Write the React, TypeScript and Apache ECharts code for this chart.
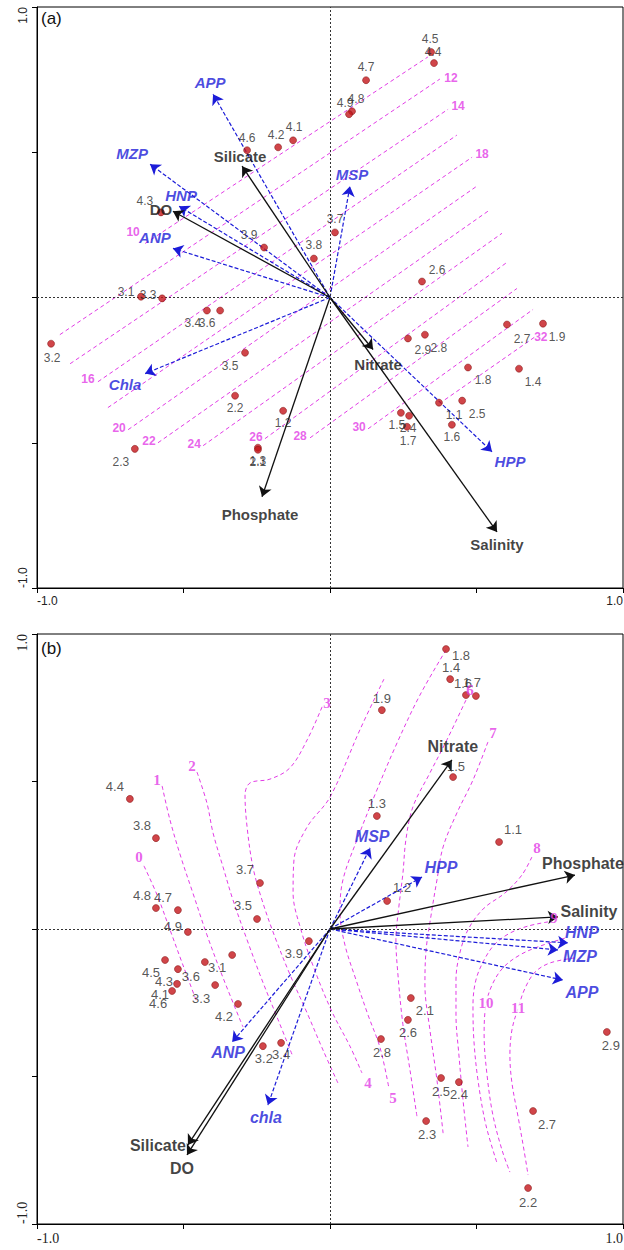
import React, { useEffect, useRef } from 'react';
import * as echarts from 'echarts';

// ---------------- DATA ----------------
const stations = ['1.1','1.2','1.3','1.4','1.5','1.6','1.7','1.8','1.9','2.1','2.2','2.3','2.4','2.5','2.6','2.7','2.8','2.9','3.1','3.2','3.3','3.4','3.5','3.6','3.7','3.8','3.9','4.1','4.2','4.3','4.4','4.5','4.6','4.7','4.8','4.9'];

// panel (a) sample scores
const aAxis1 = [0.372,-0.160,-0.246,0.645,0.242,0.416,0.263,0.471,0.727, -0.246,-0.324,-0.666,0.270,0.451,0.314,0.604,0.324,0.266, -0.645,-0.952,-0.573,-0.420,-0.290,-0.375,0.017,-0.055,-0.225, -0.126,-0.177,-0.577,0.355,0.345,-0.283,0.123,0.075,0.065];
const aAxis2 = [-0.362,-0.390,-0.517,-0.245,-0.397,-0.438,-0.445,-0.241,-0.090, -0.524,-0.338,-0.521,-0.407,-0.355,0.055,-0.093,-0.128,-0.141, 0.003,-0.159,-0.003,-0.045,-0.190,-0.045,0.224,0.134,0.172, 0.541,0.517,0.293,0.807,0.845,0.507,0.748,0.641,0.631];

// panel (b) sample scores
const bAxis1 = [0.577,0.195,0.160,0.410,0.420,0.464,0.498,0.396,0.177, 0.276,0.676,0.328,0.440,0.379,0.266,0.693,0.174,0.945, -0.334,-0.229,-0.392,-0.167,-0.249,-0.427,-0.239,-0.594,-0.072, -0.522,-0.314,-0.519,-0.683,-0.563,-0.539,-0.519,-0.594,-0.485];
const bAxis2 = [0.295,0.095,0.383,0.847,0.515,0.793,0.790,0.949,0.742, -0.234,-0.878,-0.651,-0.519,-0.505,-0.308,-0.617,-0.373,-0.349, -0.088,-0.397,-0.190,-0.386,0.034,-0.112,0.156,0.308,-0.041, -0.186,-0.254,-0.136,0.441,-0.105,-0.210,0.064,0.071,-0.010];

// panel (a) arrows
const aEnvNames = ['Silicate','DO','Nitrate','Salinity','Phosphate'];
const aEnvX = [-0.300,-0.536,0.147,0.570,-0.232];
const aEnvY = [0.452,0.297,-0.179,-0.807,-0.686];
const aBioNames = ['APP','MZP','HNP','ANP','MSP','Chla','HPP'];
const aBioX = [-0.399,-0.614,-0.515,-0.536,0.068,-0.631,0.553];
const aBioY = [0.700,0.459,0.314,0.169,0.383,-0.262,-0.531];

// panel (b) arrows
const bEnvNames = ['Nitrate','Phosphate','Salinity','Silicate','DO'];
const bEnvX = [0.416,0.836,0.778,-0.485,-0.488];
const bEnvY = [0.573,0.183,0.041,-0.732,-0.766];
const bBioNames = ['MSP','HPP','HNP','MZP','APP','ANP','chla'];
const bBioX = [0.137,0.314,0.812,0.778,0.795,-0.334,-0.212];
const bBioY = [0.275,0.176,-0.047,-0.071,-0.173,-0.383,-0.597];

// panel (a) isolines (straight)
const aIsoValues = [10,12,14,16,18,20,22,24,26,28,30,32];
const aIsoX1 = [-0.631,-0.922,-0.887,-0.792,-0.758,-0.689,-0.587,-0.433,-0.222,-0.068,0.130,0.392];
const aIsoY1 = [0.186,-0.128,-0.228,-0.290,-0.379,-0.455,-0.500,-0.510,-0.486,-0.483,-0.452,-0.352];
const aIsoX2 = [0.334,0.375,0.403,0.433,0.485,0.505,0.539,0.587,0.608,0.638,0.693,0.706];
const aIsoY2 = [0.828,0.752,0.648,0.559,0.483,0.386,0.297,0.221,0.124,0.031,-0.041,-0.131];

// panel (b) isolines (curved)
const bIsoValues = [0,1,2,3,4,5,6,7,8,9,10,11];
const bIsoLines = [
  [[-0.635,0.214],[-0.590,0.115],[-0.546,-0.003],[-0.502,-0.122],[-0.457,-0.241]],
  [[-0.573,0.485],[-0.546,0.369],[-0.509,0.244],[-0.468,0.122],[-0.420,-0.020],[-0.362,-0.173],[-0.297,-0.332]],
  [[-0.454,0.532],[-0.420,0.427],[-0.399,0.325],[-0.365,0.210],[-0.331,0.098],[-0.283,-0.037],[-0.232,-0.173],[-0.177,-0.308],[-0.126,-0.434]],
  [[-0.027,0.753],[-0.078,0.641],[-0.137,0.546],[-0.205,0.508],[-0.273,0.495],[-0.290,0.454],[-0.283,0.346],[-0.263,0.210],[-0.232,0.098],[-0.188,-0.027],[-0.133,-0.163],[-0.078,-0.285],[-0.024,-0.410],[0.027,-0.522]],
  [[0.184,0.847],[0.102,0.675],[0.000,0.447],[-0.078,0.346],[-0.123,0.234],[-0.126,0.122],[-0.099,-0.003],[-0.055,-0.132],[0.007,-0.281],[0.068,-0.397],[0.109,-0.488]],
  [[0.396,0.946],[0.307,0.793],[0.229,0.631],[0.160,0.471],[0.092,0.302],[0.044,0.166],[0.034,0.058],[0.051,-0.054],[0.089,-0.173],[0.130,-0.292],[0.171,-0.403],[0.201,-0.539]],
  [[0.464,0.776],[0.399,0.641],[0.341,0.529],[0.283,0.414],[0.259,0.302],[0.249,0.190],[0.235,0.075],[0.225,-0.037],[0.232,-0.156],[0.249,-0.325],[0.273,-0.478],[0.297,-0.637]],
  [[0.539,0.634],[0.488,0.505],[0.433,0.393],[0.386,0.278],[0.365,0.166],[0.345,0.047],[0.328,-0.071],[0.324,-0.190],[0.341,-0.342],[0.365,-0.512],[0.386,-0.692]],
  [[0.689,0.244],[0.655,0.183],[0.597,0.122],[0.526,0.071],[0.474,0.003],[0.444,-0.078],[0.430,-0.173],[0.430,-0.292],[0.440,-0.427],[0.454,-0.580],[0.471,-0.739]],
  [[0.744,0.024],[0.676,0.010],[0.614,-0.014],[0.563,-0.051],[0.526,-0.105],[0.498,-0.173],[0.488,-0.258],[0.491,-0.376],[0.505,-0.512],[0.532,-0.664],[0.570,-0.793]],
  [[0.802,-0.031],[0.717,-0.058],[0.648,-0.088],[0.590,-0.132],[0.553,-0.190],[0.532,-0.258],[0.526,-0.359],[0.536,-0.495],[0.556,-0.631],[0.587,-0.749],[0.614,-0.824]],
  [[0.836,-0.098],[0.751,-0.115],[0.700,-0.146],[0.666,-0.200],[0.642,-0.268],[0.621,-0.342],[0.614,-0.427],[0.621,-0.522],[0.642,-0.637],[0.662,-0.749],[0.676,-0.834]],
];

// ---------------- STYLE (label placement, px) ----------------
const aPtOffset: Record<string, number[]> = {
  '1.1':[15,12],'1.2':[0,12],'1.3':[0,13],'1.4':[14,13],'1.5':[-4,12],'1.6':[0,12],'1.7':[1,14],'1.8':[15,12],'1.9':[14,13],
  '2.1':[0,12],'2.2':[0,12],'2.3':[-14,13],'2.4':[-1,12],'2.5':[15,13],'2.6':[15,-12],'2.7':[15,14],'2.8':[14,13],'2.9':[15,12],
  '3.1':[-15,-5],'3.2':[1,14],'3.3':[-14,-3],'3.4':[-14,12],'3.5':[-15,13],'3.6':[-13,12],'3.7':[0,-13],'3.8':[0,-14],'3.9':[-15,-13],
  '4.1':[1,-13],'4.2':[-2,-12],'4.3':[-16,-11],'4.4':[-1,-11],'4.5':[-1,-13],'4.6':[0,-12],'4.7':[0,-13],'4.8':[4,-12],'4.9':[-4,-11],
};
const bPtOffset: Record<string, number[]> = {
  '1.1':[14,-12],'1.2':[15,-13],'1.3':[0,-13],'1.4':[1,-12],'1.5':[3,-11],'1.6':[-3,-12],'1.7':[-4,-13],'1.8':[15,6],'1.9':[0,-12],
  '2.1':[14,12],'2.2':[0,14],'2.3':[1,13],'2.4':[0,12],'2.5':[0,14],'2.6':[0,13],'2.7':[14,13],'2.8':[1,13],'2.9':[4,14],
  '3.1':[-15,13],'3.2':[1,12],'3.3':[-14,13],'3.4':[0,12],'3.5':[-14,-13],'3.6':[-14,14],'3.7':[-15,-13],'3.8':[-14,-13],'3.9':[-15,12],
  '4.1':[-17,11],'4.2':[-14,13],'4.3':[-14,12],'4.4':[-15,-12],'4.5':[-14,13],'4.6':[-14,13],'4.7':[-15,-13],'4.8':[-14,-13],'4.9':[-15,-5],
};
const aEnvOffset: Record<string, number[]> = { Silicate:[-2,-10], DO:[-12,-2], Nitrate:[5,15], Salinity:[0,13], Phosphate:[-2,18] };
const aBioOffset: Record<string, number[]> = { APP:[-3,-12], MZP:[-18,-11], HNP:[2,-11], ANP:[-18,-11], MSP:[2,-12], Chla:[-20,11], HPP:[18,10] };
const bEnvOffset: Record<string, number[]> = { Nitrate:[1,-13], Phosphate:[8,-12], Salinity:[31,-5], Silicate:[-30,1], DO:[-5,14] };
const bBioOffset: Record<string, number[]> = { MSP:[2,-11], HPP:[19,-10], HNP:[14,-10], MZP:[22,7], APP:[19,12], ANP:[-4,11], chla:[-2,12] };
// isoline label anchor: 0 = start, 1 = end ; offsets px
const aIsoAnchor = [0,1,1,0,1,0,0,0,0,0,0,1];
const aIsoOffset = [[-12,-11],[11,-1],[10,-3],[-10,-3],[10,-3],[-9,-2],[-9,-2],[-9,-2],[-9,-2],[-10,-2],[-9,-2],[4,1]];
// b: vertex index (-1 = last)
const bIsoAnchor = [0,0,0,0,-1,-1,0,0,0,0,5,4];
const bIsoOffset = [[-5,-9],[-5,-6],[-5,-6],[5,-4],[6,10],[4,10],[4,-10],[5,-9],[5,-9],[6,-4],[0,-2],[0,0]];

const SANS = '"Liberation Sans", Arial, Helvetica, sans-serif';
const SERIF = '"Liberation Serif", "Times New Roman", serif';
const MAGENTA = '#e23ce6';
const BLUE = '#1c1cd8';

function axes(gi: number, font: string, size: number) {
  const fmt = (v: number) => (v === -1 ? '-1.0' : v === 1 ? '1.0' : '');
  const common = {
    gridIndex: gi, type: 'value', min: -1, max: 1, interval: 0.5,
    axisLine: { show: true, onZero: false, lineStyle: { color: '#000', width: 1 } },
    axisTick: { show: true, inside: false, length: 5, lineStyle: { color: '#000' } },
    splitLine: { show: false },
  };
  return {
    x: { ...common, axisLabel: { formatter: fmt, alignMinLabel: 'left', alignMaxLabel: 'right', fontFamily: font, fontSize: size, color: '#222', margin: 7 } },
    y: { ...common, axisLabel: { formatter: fmt, rotate: 90, alignMinLabel: 'left', alignMaxLabel: 'right', fontFamily: font, fontSize: size, color: '#222', margin: 8 } },
  };
}

function panel(gi: number, p: any) {
  const series: any[] = [];
  // isolines
  p.isoLines.forEach((pts: number[][], i: number) => {
    series.push({
      type: 'line', xAxisIndex: gi, yAxisIndex: gi, data: pts, smooth: p.smooth, showSymbol: false, symbol: 'none',
      lineStyle: { color: MAGENTA, width: 1, type: [4, 3] }, silent: true, z: 1,
    });
  });
  // isoline labels
  series.push({
    type: 'scatter', xAxisIndex: gi, yAxisIndex: gi, symbolSize: 1, itemStyle: { color: 'transparent' }, silent: true, z: 6,
    data: p.isoLines.map((pts: number[][], i: number) => {
      const a = p.isoAnchor[i];
      const idx = a === -1 ? pts.length - 1 : a;
      return {
        value: pts[idx], name: String(p.isoValues[i]),
        label: { offset: p.isoOffset[i], ...(p.isoBg && a > 0 ? { backgroundColor: '#fff', padding: [0, 1] } : {}) },
      };
    }),
    label: { show: true, position: 'inside', formatter: '{b}', color: MAGENTA, fontFamily: p.isoFont, fontSize: p.isoSize, fontWeight: 'bold', textBorderWidth: 0, align: 'center', verticalAlign: 'middle' },
  });
  // arrows
  series.push({
    type: 'lines', coordinateSystem: 'cartesian2d', xAxisIndex: gi, yAxisIndex: gi, polyline: false, silent: true, z: 3,
    symbol: ['none', 'arrow'], symbolSize: 10,
    lineStyle: { color: BLUE, width: 1.2, type: [4, 2], opacity: 1, curveness: 0 },
    data: p.bioNames.map((n: string, i: number) => ({ coords: [[0, 0], [p.bioX[i], p.bioY[i]]] })),
  });
  series.push({
    type: 'lines', coordinateSystem: 'cartesian2d', xAxisIndex: gi, yAxisIndex: gi, polyline: false, silent: true, z: 3,
    symbol: ['none', 'arrow'], symbolSize: 10,
    lineStyle: { color: '#111', width: 1.3, type: 'solid', opacity: 1, curveness: 0 },
    data: p.envNames.map((n: string, i: number) => ({ coords: [[0, 0], [p.envX[i], p.envY[i]]] })),
  });
  // arrow labels
  series.push({
    type: 'scatter', xAxisIndex: gi, yAxisIndex: gi, symbolSize: 1, itemStyle: { color: 'transparent' }, silent: true, z: 6,
    data: p.envNames.map((n: string, i: number) => ({ value: [p.envX[i], p.envY[i]], name: n, label: { offset: p.envOffset[n] } })),
    label: { show: true, position: 'inside', formatter: '{b}', color: '#111', fontFamily: SANS, fontSize: p.arrowSize, fontWeight: 'bold', textBorderWidth: 0, align: 'center', verticalAlign: 'middle' },
  });
  series.push({
    type: 'scatter', xAxisIndex: gi, yAxisIndex: gi, symbolSize: 1, itemStyle: { color: 'transparent' }, silent: true, z: 6,
    data: p.bioNames.map((n: string, i: number) => ({ value: [p.bioX[i], p.bioY[i]], name: n, label: { offset: p.bioOffset[n] } })),
    label: { show: true, position: 'inside', formatter: '{b}', color: BLUE, fontFamily: SANS, fontSize: p.arrowSize, fontWeight: 'bold', fontStyle: 'italic', textBorderWidth: 0, align: 'center', verticalAlign: 'middle' },
  });
  // sample points
  series.push({
    type: 'scatter', xAxisIndex: gi, yAxisIndex: gi, symbol: 'circle', symbolSize: 7, silent: true, z: 5,
    itemStyle: { color: '#c4161c', borderColor: '#7a0a0a', borderWidth: 0.6 },
    data: stations.map((s, i) => ({ value: [p.ax1[i], p.ax2[i]], name: s, label: { offset: p.ptOffset[s] } })),
    label: { show: true, position: 'inside', formatter: '{b}', color: '#2a2a2a', fontFamily: SANS, fontSize: p.ptSize, textBorderWidth: 0, align: 'center', verticalAlign: 'middle' },
    markLine: {
      silent: true, symbol: ['none', 'none'], label: { show: false },
      lineStyle: { color: '#333', width: 1, type: [2, 2] },
      data: [{ xAxis: 0 }, { yAxis: 0 }],
    },
  });
  return series;
}

export default function App() {
  const ref = useRef<HTMLDivElement>(null);
  useEffect(() => {
    if (!ref.current) return;
    const chart = echarts.init(ref.current, undefined, { renderer: 'svg' });
    const axA = axes(0, SANS, 12);
    const axB = axes(1, SERIF, 14);
    const sA = panel(0, {
      ax1: aAxis1, ax2: aAxis2, ptOffset: aPtOffset, ptSize: 12,
      envNames: aEnvNames, envX: aEnvX, envY: aEnvY, envOffset: aEnvOffset,
      bioNames: aBioNames, bioX: aBioX, bioY: aBioY, bioOffset: aBioOffset, arrowSize: 15,
      isoLines: aIsoValues.map((v, i) => [[aIsoX1[i], aIsoY1[i]], [aIsoX2[i], aIsoY2[i]]]),
      isoValues: aIsoValues, isoAnchor: aIsoAnchor, isoOffset: aIsoOffset, isoFont: SANS, isoSize: 12, smooth: false, isoBg: false,
    });
    const sB = panel(1, {
      ax1: bAxis1, ax2: bAxis2, ptOffset: bPtOffset, ptSize: 13,
      envNames: bEnvNames, envX: bEnvX, envY: bEnvY, envOffset: bEnvOffset,
      bioNames: bBioNames, bioX: bBioX, bioY: bBioY, bioOffset: bBioOffset, arrowSize: 16,
      isoLines: bIsoLines, isoValues: bIsoValues, isoAnchor: bIsoAnchor, isoOffset: bIsoOffset, isoFont: SERIF, isoSize: 15, smooth: 0.35, isoBg: true,
    });
    chart.setOption({
      animation: false,
      backgroundColor: '#fff',
      grid: [
        { left: 37, top: 7, width: 586, height: 581, show: true, borderColor: '#000', borderWidth: 1, backgroundColor: 'transparent', outerBoundsMode: 'none' },
        { left: 37, top: 634, width: 586, height: 590, show: true, borderColor: '#000', borderWidth: 1, backgroundColor: 'transparent', outerBoundsMode: 'none' },
      ],
      xAxis: [axA.x, axB.x],
      yAxis: [axA.y, axB.y],
      graphic: [
        { type: 'text', left: 41, top: 10, style: { text: '(a)', fontFamily: SANS, fontSize: 17, fill: '#111' } },
        { type: 'text', left: 41, top: 640, style: { text: '(b)', fontFamily: SANS, fontSize: 17, fill: '#111' } },
      ],
      series: [...sA, ...sB],
    });
    return () => chart.dispose();
  }, []);
  return <div ref={ref} style={{ position: 'absolute', left: 0, top: 0, width: 624, height: 1250, background: '#fff' }} />;
}
